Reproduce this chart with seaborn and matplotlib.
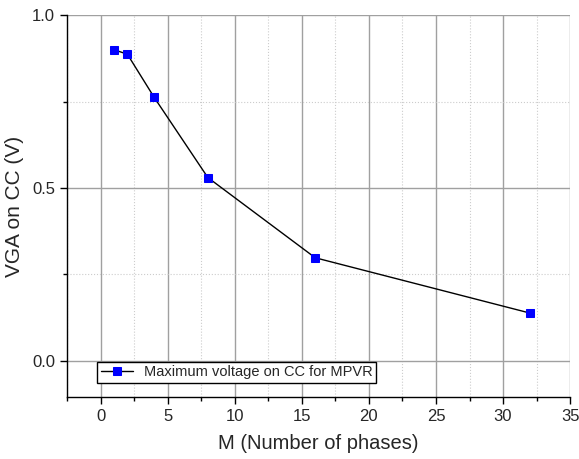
import numpy as np
import pandas as pd
import matplotlib.pyplot as plt
import seaborn as sns
from matplotlib.ticker import MultipleLocator

# datos
m_phases = [1, 2, 4, 8, 16, 32]
vga_cc = [0.90, 0.887, 0.762, 0.53, 0.298, 0.138]
label = "Maximum voltage on CC for MPVR"

df = pd.DataFrame({"M": m_phases, "VGA": vga_cc})

sns.set_style("white")
plt.rcParams['font.family'] = ['Liberation Sans', 'DejaVu Sans']

fig = plt.figure(figsize=(5.79, 4.59), dpi=100)
ax = fig.add_axes([0.1157, 0.135, 0.869, 0.832])

sns.lineplot(data=df, x="M", y="VGA", ax=ax, color="black", linewidth=1,
             marker="s", markersize=6, markerfacecolor="blue",
             markeredgecolor="blue", label=label)

ax.set_xlim(-2.5, 35)
ax.set_ylim(-0.105, 1.0)
ax.xaxis.set_major_locator(MultipleLocator(5))
ax.xaxis.set_minor_locator(MultipleLocator(2.5))
ax.yaxis.set_major_locator(MultipleLocator(0.5))
ax.yaxis.set_minor_locator(MultipleLocator(0.25))
ax.yaxis.set_major_formatter(plt.FormatStrFormatter('%.1f'))

ax.grid(which="major", color="#a0a0a0", linewidth=1, linestyle="-")
ax.grid(which="minor", color="#cccccc", linewidth=0.8, linestyle=":")
ax.set_axisbelow(True)

for s in ["top", "right"]:
    ax.spines[s].set_visible(False)
for s in ["left", "bottom"]:
    ax.spines[s].set_color("black")
    ax.spines[s].set_linewidth(1)

ax.tick_params(which="major", direction="out", length=5, width=1,
               labelsize=12, left=True, bottom=True, color="black")
ax.tick_params(which="minor", direction="out", length=3, width=1,
               left=True, bottom=True, color="black")

ax.set_xlabel("M (Number of phases)", fontsize=14.5, labelpad=7)
ax.set_ylabel("VGA on CC (V)", fontsize=15, labelpad=6)

leg = ax.legend(loc="lower left", bbox_to_anchor=(0.0596, 0.037), fontsize=10.5,
                frameon=True, fancybox=False, borderpad=0.25, handlelength=2.25,
                handletextpad=0.7, borderaxespad=0)
leg.get_frame().set_edgecolor("black")
leg.get_frame().set_linewidth(1)
leg.get_frame().set_alpha(1)

fig.savefig("out.png", dpi=100)
